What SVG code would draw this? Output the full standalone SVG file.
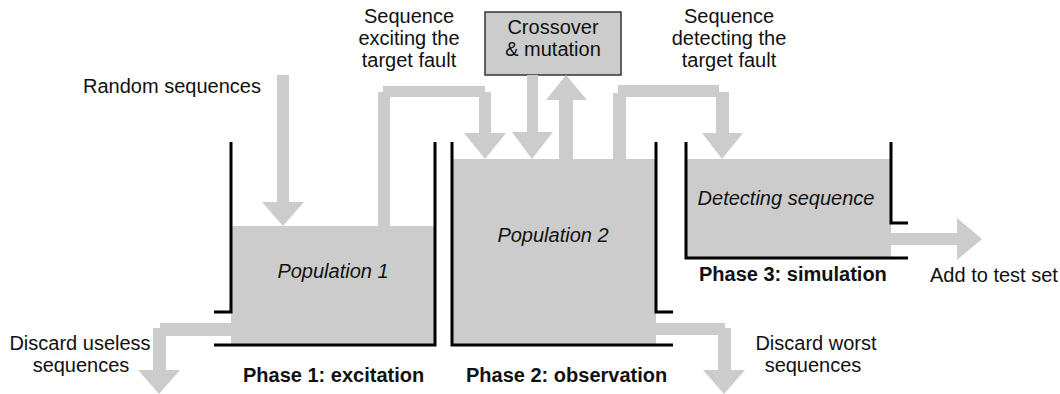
<svg xmlns="http://www.w3.org/2000/svg" width="1060" height="394" viewBox="0 0 1060 394">
  <style>
    text { font-family: "Liberation Sans", Arial, sans-serif; font-size: 20px; fill: #111; }
    .mid { text-anchor: middle; }
    .it { font-style: italic; }
    .bold { font-weight: bold; }
    .fill { fill: #cccccc; }
    .wall { fill: none; stroke: #000; stroke-width: 3; }
    .flow { fill: #cccccc; }
  </style>

  <rect width="1060" height="394" fill="#fff"/>

  <!-- Phase 1 tank -->
  <g id="population1">
    <rect class="fill" x="231" y="226" width="204" height="119"/>
    <path class="wall" d="M214,312 H231 V142"/>
    <path class="wall" d="M214,345 H435 V142"/>
    <text class="it mid" x="333" y="278">Population 1</text>
  </g>

  <!-- Phase 2 tank -->
  <g id="population2">
    <rect class="fill" x="452" y="159" width="204" height="186"/>
    <path class="wall" d="M452,142 V345 H673"/>
    <path class="wall" d="M656,142 V312 H673"/>
    <text class="it mid" x="553" y="242">Population 2</text>
  </g>

  <!-- Phase 3 tank -->
  <g id="detecting">
    <rect class="fill" x="686" y="159" width="205" height="99"/>
    <path class="wall" d="M686,142 V258 H908"/>
    <path class="wall" d="M891,142 V223 H908"/>
    <text class="it mid" x="786" y="205">Detecting sequence</text>
  </g>

  <!-- Genetic operators -->
  <g id="crossover">
    <rect x="485" y="12" width="136" height="63" fill="#cccccc" stroke="#333" stroke-width="1.5"/>
    <text class="mid" x="553" y="34">Crossover</text>
    <text class="mid" x="553" y="56">&amp; mutation</text>
  </g>

  <!-- Flows between tanks -->
  <g id="connectors" class="flow">
    <!-- random sequences in -->
    <rect x="277" y="75" width="12" height="128"/>
    <polygon points="262,202 304,202 283,226"/>
    <!-- excited sequence to population 2 -->
    <rect x="378" y="92" width="12" height="135"/>
    <rect x="383" y="86" width="102" height="11"/>
    <rect x="479" y="92" width="12" height="42"/>
    <polygon points="464,133 506,133 485,159"/>
    <!-- crossover down -->
    <rect x="527" y="75" width="11" height="58"/>
    <polygon points="512,132 553,132 532,159"/>
    <!-- population 2 up to crossover -->
    <rect x="559" y="99" width="14" height="61"/>
    <polygon points="546,100 587,100 566,75"/>
    <!-- detected sequence to phase 3 -->
    <rect x="613" y="93" width="13" height="67"/>
    <rect x="618" y="85" width="101" height="12"/>
    <rect x="716" y="92" width="13" height="42"/>
    <polygon points="702,133 743,133 722,159"/>
    <!-- discard useless -->
    <rect x="160" y="323" width="72" height="13"/>
    <rect x="153" y="328" width="13" height="43"/>
    <polygon points="138,370 180,370 159,394"/>
    <!-- discard worst -->
    <rect x="655" y="323" width="70" height="12"/>
    <rect x="718" y="328" width="13" height="43"/>
    <polygon points="703,370 745,370 724,394"/>
    <!-- add to test set -->
    <rect x="890" y="233" width="68" height="12"/>
    <polygon points="957,218 957,260 982,239"/>
  </g>

  <!-- Annotations -->
  <g id="labels">
    <text x="83" y="93">Random sequences</text>
    <text class="mid" x="409" y="23">Sequence</text>
    <text class="mid" x="409" y="45">exciting the</text>
    <text class="mid" x="409" y="67">target fault</text>
    <text class="mid" x="729" y="23">Sequence</text>
    <text class="mid" x="729" y="45">detecting the</text>
    <text class="mid" x="729" y="67">target fault</text>
    <text class="mid" x="80" y="350">Discard useless</text>
    <text class="mid" x="81" y="372">sequences</text>
    <text class="mid" x="816" y="350">Discard worst</text>
    <text class="mid" x="813" y="372">sequences</text>
    <text x="930" y="282">Add to test set</text>
    <text class="bold" x="243" y="382">Phase 1: excitation</text>
    <text class="bold" x="466" y="382">Phase 2: observation</text>
    <text class="bold" x="699" y="281">Phase 3: simulation</text>
  </g>
</svg>
